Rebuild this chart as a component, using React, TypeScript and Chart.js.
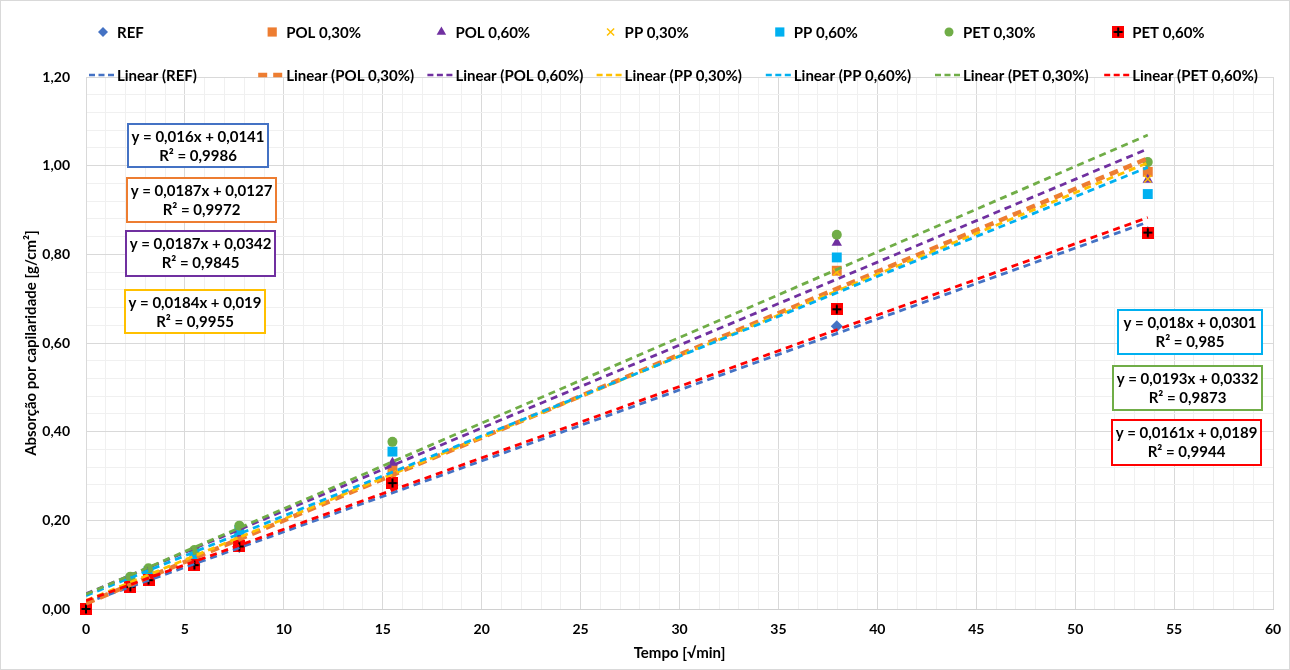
import React, { useEffect, useRef } from 'react';
import { Chart, registerables } from 'chart.js';
import { drawPoint } from 'chart.js/helpers';

Chart.register(...registerables);

// ---------- DATA ----------
const xValues = [0, 2.24, 3.16, 5.48, 7.75, 15.49, 37.95, 53.67];
const seriesNames = ['REF', 'POL 0,30%', 'POL 0,60%', 'PP 0,30%', 'PP 0,60%', 'PET 0,30%', 'PET 0,60%'];
const refValues = [0, 0.05, 0.066, 0.099, 0.14, 0.278, 0.638, 0.85];
const pol030Values = [0, 0.058, 0.075, 0.11, 0.16, 0.315, 0.763, 0.986];
const pol060Values = [0, 0.065, 0.083, 0.12, 0.17, 0.33, 0.826, 0.968];
const pp030Values = [0, 0.058, 0.074, 0.108, 0.155, 0.305, 0.76, 0.97];
const pp060Values = [0, 0.065, 0.085, 0.122, 0.178, 0.355, 0.793, 0.936];
const pet030Values = [0, 0.073, 0.092, 0.133, 0.188, 0.377, 0.844, 1.008];
const pet060Values = [0, 0.05, 0.065, 0.099, 0.141, 0.284, 0.676, 0.849];
const trendSlopes = [0.016, 0.0187, 0.0187, 0.0184, 0.018, 0.0193, 0.0161];
const trendIntercepts = [0.0141, 0.0127, 0.0342, 0.019, 0.0301, 0.0332, 0.0189];
const trendR2 = [0.9986, 0.9972, 0.9845, 0.9955, 0.985, 0.9873, 0.9944];
const xAxisTitle = 'Tempo [√min]';
const yAxisTitle = 'Absorção por capilaridade [g/cm²]';

const allValues = [refValues, pol030Values, pol060Values, pp030Values, pp060Values, pet030Values, pet060Values];

// ---------- STYLE ----------
const colors = ['#4472C4', '#ED7D31', '#7030A0', '#FFC000', '#00B0F0', '#70AD47', '#FF0000'];
const FONT = 'Lato, "Open Sans", sans-serif';

function makePlusSquare(size: number) {
  const c = document.createElement('canvas');
  c.width = size;
  c.height = size;
  const g = c.getContext('2d')!;
  g.fillStyle = '#FF0000';
  g.fillRect(0, 0, size, size);
  g.strokeStyle = '#000';
  g.lineWidth = 2;
  g.beginPath();
  g.moveTo(size / 2, 1.5);
  g.lineTo(size / 2, size - 1.5);
  g.moveTo(1.5, size / 2);
  g.lineTo(size - 1.5, size / 2);
  g.stroke();
  return c;
}

// box layout for equation labels: [left, top, width, height]
const eqBoxes = [
  [128, 124, 140, 43],
  [127, 178, 149, 44],
  [126, 231, 149, 45],
  [125, 290, 140, 43],
  [1118, 310, 144, 44],
  [1113, 366, 149, 44],
  [1112, 420, 149, 45],
];

const fmt = (v: number) => String(v).replace('.', ',');

export default function App() {
  const ref = useRef<HTMLCanvasElement>(null);
  useEffect(() => {
    const plusImg = makePlusSquare(12);
    const pointStyles: any[] = ['rectRot', 'rect', 'triangle', 'crossRot', 'rect', 'circle', plusImg];
    const radii = [6, 7, 6, 5, 7, 5, 6];
    const legendRadii = [5, 6.5, 5.5, 5, 6.5, 4.5, 6];

    const scatterSets = allValues.map((vals, i) => ({
      type: 'scatter' as const,
      label: seriesNames[i],
      data: vals.map((y, k) => ({ x: xValues[k], y })),
      pointStyle: pointStyles[i],
      pointRadius: radii[i],
      pointHoverRadius: radii[i],
      backgroundColor: colors[i],
      borderColor: colors[i],
      borderWidth: i === 3 ? 1.5 : 0,
      showLine: false,
      clip: false as any,
      order: 100 - i,
    }));
    const xEnd = xValues[xValues.length - 1];
    const trendSets = trendSlopes.map((m, i) => ({
      type: 'scatter' as const,
      label: 'Linear (' + seriesNames[i] + ')',
      data: [
        { x: xValues[0], y: m * xValues[0] + trendIntercepts[i] },
        { x: xEnd, y: m * xEnd + trendIntercepts[i] },
      ],
      showLine: true,
      borderColor: colors[i],
      backgroundColor: colors[i],
      borderWidth: i === 1 ? 4.5 : 2.8,
      borderDash: i === 1 ? [9, 6] : [7, 5],
      pointRadius: 0,
      pointHoverRadius: 0,
      order: 10 - i,
    }));

    const isMajorY = (v: number) => Math.abs(v * 5 - Math.round(v * 5)) < 1e-6;

    const overlay = {
      id: 'overlay',
      afterDatasetsDraw(chart: any) {
        const ctx = chart.ctx;
        ctx.save();
        eqBoxes.forEach((b, i) => {
          const [l, t, w, h] = b;
          ctx.fillStyle = '#fff';
          ctx.fillRect(l, t, w, h);
          ctx.strokeStyle = colors[i];
          ctx.lineWidth = 2;
          ctx.strokeRect(l, t, w, h);
          ctx.fillStyle = '#000';
          ctx.font = 'bold 15px ' + FONT;
          ctx.textAlign = 'center';
          ctx.textBaseline = 'middle';
          const eq = 'y = ' + fmt(trendSlopes[i]) + 'x + ' + fmt(trendIntercepts[i]);
          ctx.fillText(eq, l + w / 2, t + 13);
          ctx.fillText('R² = ' + fmt(trendR2[i]), l + w / 2, t + 32);
        });
        ctx.restore();
      },
      afterDraw(chart: any) {
        const ctx = chart.ctx;
        ctx.save();
        ctx.font = 'bold 15px ' + FONT;
        ctx.textBaseline = 'middle';
        ctx.textAlign = 'left';
        const colW = 169.2;
        const row1 = 32;
        const row2 = 75;
        seriesNames.forEach((name, i) => {
          const tx = 117 + i * colW;
          // marker
          ctx.fillStyle = colors[i];
          ctx.strokeStyle = colors[i];
          ctx.lineWidth = i === 3 ? 1.5 : 0;
          drawPoint(ctx, { pointStyle: pointStyles[i], radius: legendRadii[i], rotation: 0, borderWidth: i === 3 ? 1.5 : 0 } as any, tx - 14, row1);
          ctx.fillStyle = '#000';
          ctx.fillText(name, tx, row1 + 1);
          // line
          ctx.strokeStyle = colors[i];
          ctx.lineWidth = i === 1 ? 4.5 : 2.5;
          ctx.setLineDash(i === 1 ? [9, 6] : [6, 3.5]);
          ctx.beginPath();
          ctx.moveTo(tx - 28, row2);
          ctx.lineTo(tx - 2, row2);
          ctx.stroke();
          ctx.setLineDash([]);
          ctx.fillStyle = '#000';
          ctx.fillText('Linear (' + name + ')', tx, row2 + 1);
        });
        // outer frame
        ctx.strokeStyle = '#d9d9d9';
        ctx.lineWidth = 1;
        ctx.strokeRect(0.5, 0.5, 1289, 669);
        ctx.restore();
      },
    };

    const chart = new Chart(ref.current!, {
      type: 'scatter',
      data: { datasets: [...trendSets, ...scatterSets] as any },
      options: {
        animation: false,
        responsive: false,
        events: [],
        layout: { padding: { left: 0, top: 77, right: 17, bottom: 0 } },
        plugins: { legend: { display: false }, tooltip: { enabled: false } },
        scales: {
          x: {
            type: 'linear',
            min: 0,
            max: 60,
            afterFit: (s: any) => { s.height = 61; s.paddingLeft = 0; s.paddingRight = 0; },
            border: { color: '#d0d0d0', width: 1 },
            grid: {
              drawTicks: false,
              color: (c: any) => (c.tick && c.tick.value % 5 === 0 ? '#d9d9d9' : '#f0f0f0'),
            },
            ticks: {
              stepSize: 1,
              autoSkip: false,
              maxRotation: 0,
              padding: 12,
              color: '#000',
              font: { family: FONT, size: 14, weight: 'bold' },
              callback: (v: any) => (Number(v) % 5 === 0 ? String(v) : ''),
            },
            title: {
              display: true,
              text: xAxisTitle,
              color: '#000',
              font: { family: FONT, size: 15, weight: 'bold' },
              padding: { top: 0, bottom: 8 },
            },
          },
          y: {
            type: 'linear',
            min: 0,
            max: 1.2,
            afterFit: (s: any) => { s.width = 86; s.paddingTop = 0; s.paddingBottom = 0; },
            border: { color: '#d9d9d9', width: 1 },
            grid: {
              drawTicks: false,
              color: (c: any) => (c.tick && isMajorY(c.tick.value) ? '#d9d9d9' : '#f0f0f0'),
            },
            ticks: {
              stepSize: 0.04,
              autoSkip: false,
              padding: 16,
              color: '#000',
              font: { family: FONT, size: 14, weight: 'bold' },
              callback: (v: any) => (isMajorY(Number(v)) ? Number(v).toFixed(2).replace('.', ',') : ''),
            },
            title: {
              display: true,
              text: yAxisTitle,
              color: '#000',
              font: { family: FONT, size: 15, weight: 'bold' },
              padding: { top: 22, bottom: 0 },
            },
          },
        },
      },
      plugins: [overlay],
    });
    return () => chart.destroy();
  }, []);

  return (
    <div style={{ position: 'absolute', left: 0, top: 0, width: 1290, height: 670, background: '#fff' }}>
      <canvas ref={ref} width={1290} height={670} style={{ display: 'block' }} />
    </div>
  );
}
